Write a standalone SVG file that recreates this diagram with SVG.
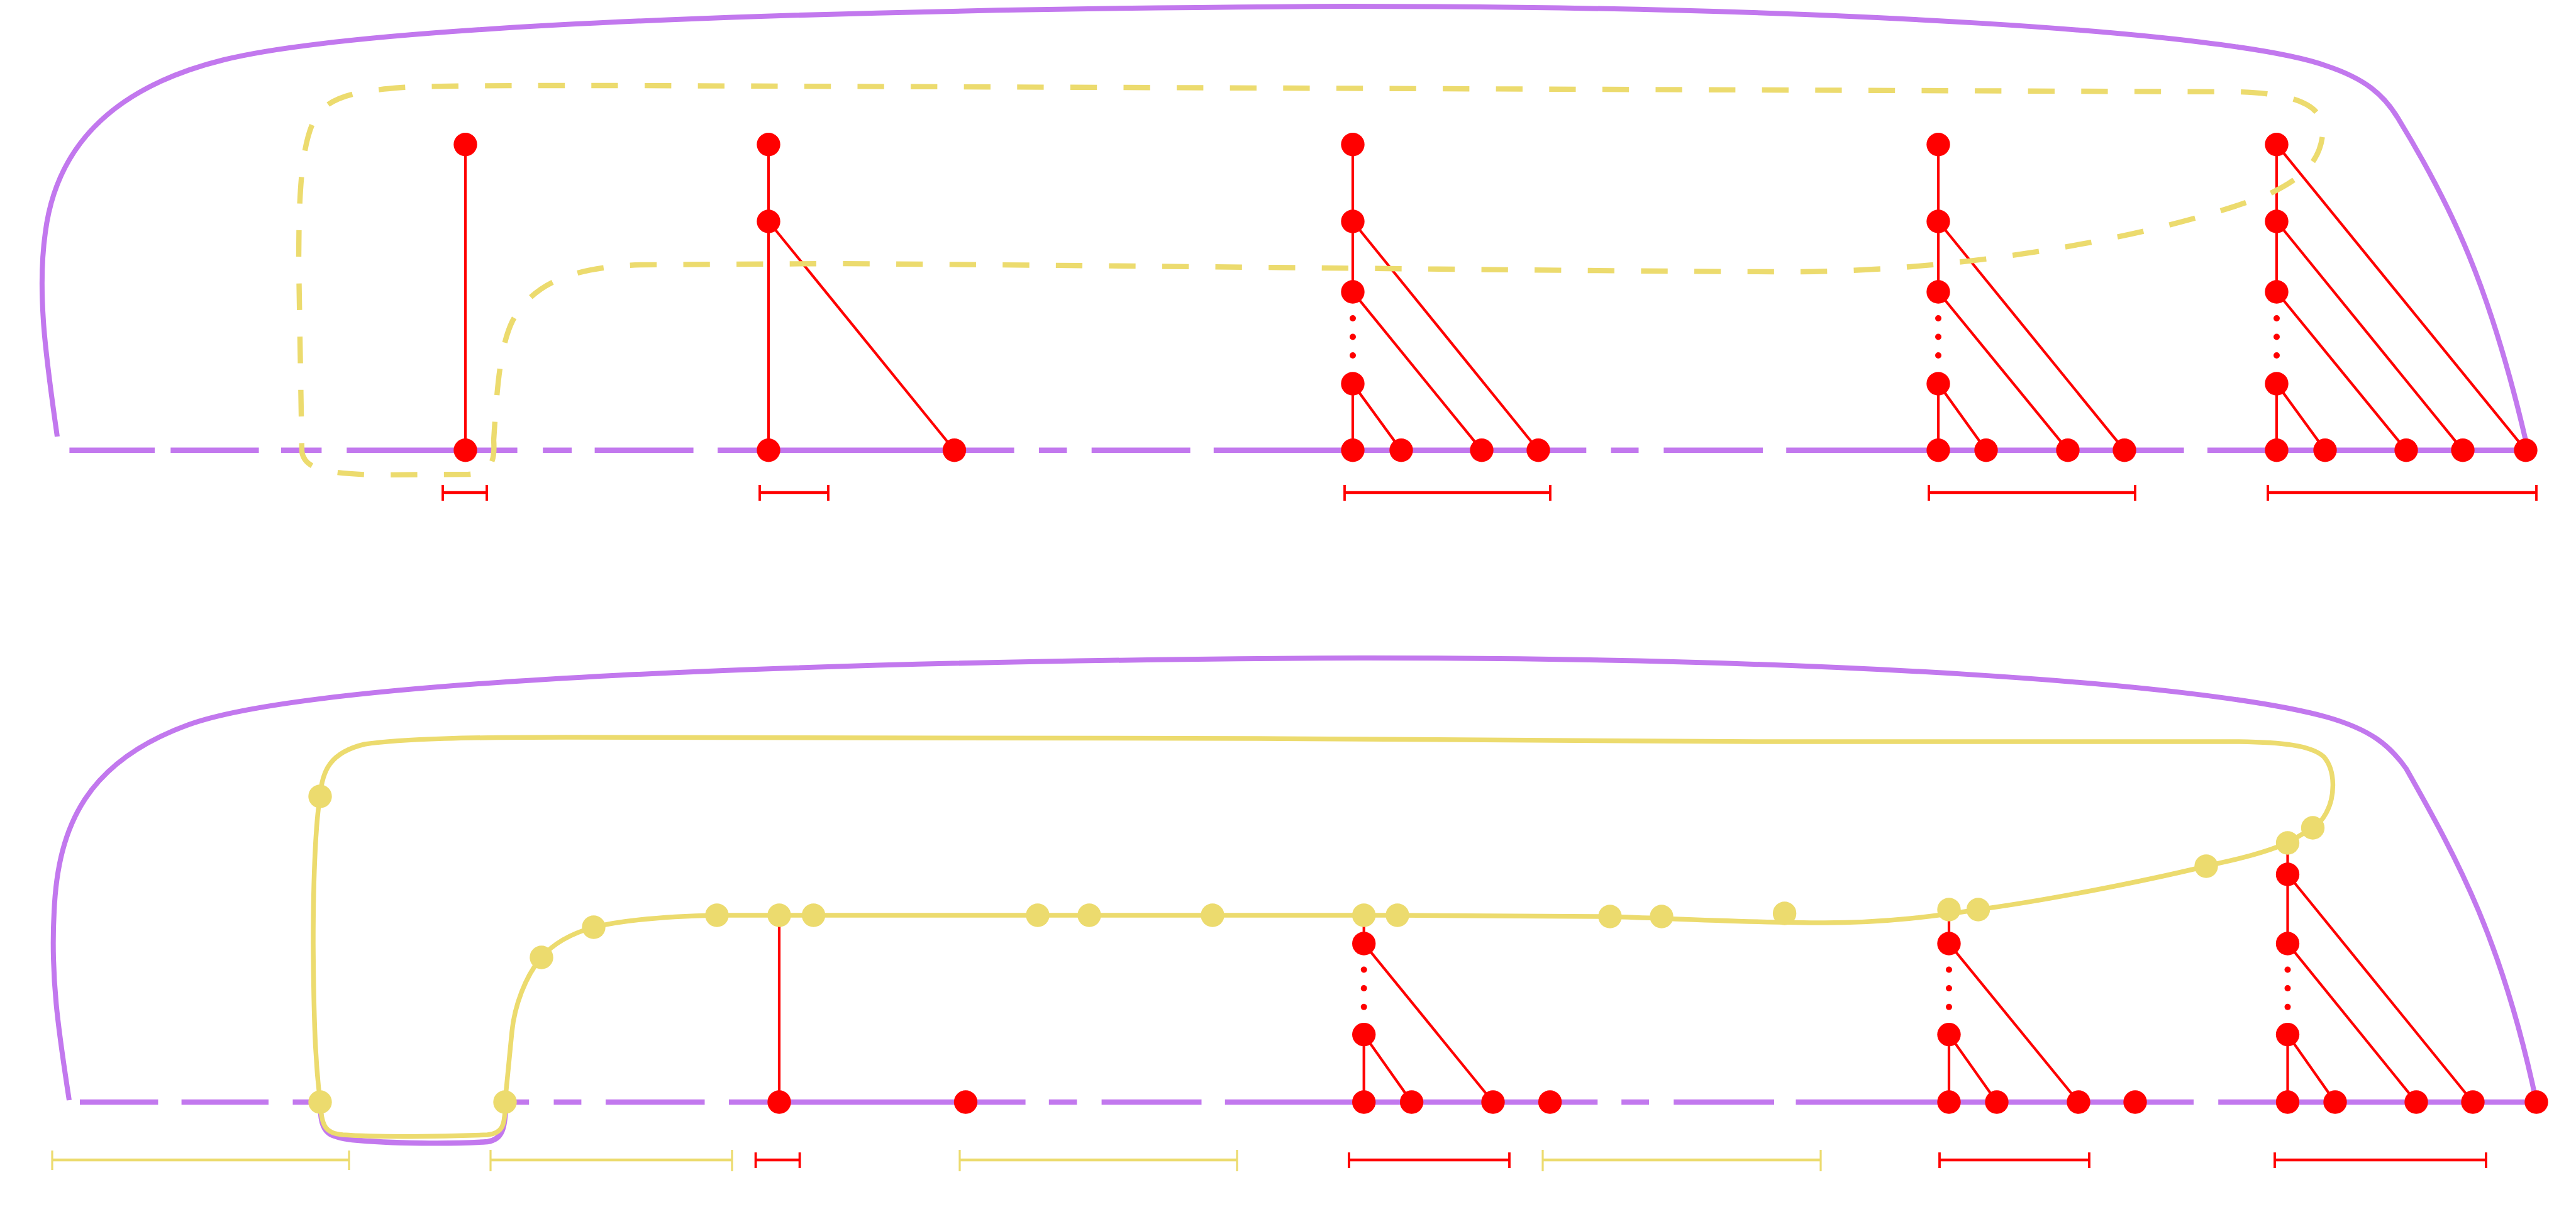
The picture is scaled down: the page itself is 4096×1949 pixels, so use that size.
<svg xmlns="http://www.w3.org/2000/svg" width="4096" height="1949" viewBox="0 0 4096 1949">
<style>
.pc{fill:none;stroke:#c278ee;stroke-width:8;stroke-linejoin:round}
.pb{fill:none;stroke:#c278ee;stroke-width:8.4}
.yd{fill:none;stroke:#ecdb6e;stroke-width:8.4;stroke-dasharray:42.3 42.3;stroke-dashoffset:8.7}
.ys{fill:none;stroke:#ecdb6e;stroke-width:7.5;stroke-linejoin:round}
.rl{fill:none;stroke:#ff0000;stroke-width:4.2}
.rb{fill:none;stroke:#ff0000;stroke-width:4.4}
.rt{fill:none;stroke:#ff0000;stroke-width:3.8}
.yb{fill:none;stroke:#ecdb6e;stroke-width:4.4}
.yt{fill:none;stroke:#ecdb6e;stroke-width:3.2}
.rn{fill:#ff0000}
.yn{fill:#ecdb6e}
.dot{fill:#ff0000}
</style>
<rect width="4096" height="1949" fill="#ffffff"/>
<g id="connectors">
  <!-- top diagram purple -->
  <path class="pc" d="M91 694 C75 580 58 470 72 370 C88 245 165 142 356 95 C600 35 1400 14 2141 10 C2900 10 3550 50 3700 105 C3760 125 3790 150 3813 188 C3900 330 3960 460 4016 700"/>
  <path class="pb" d="M110.4 715.7H246 M271.3 715.7H411.6 M446.9 715.7H511.4 M551.3 715.7H822.6 M863.2 715.7H909 M945.6 715.7H1102.6 M1141.1 715.7H1612.6 M1651.9 715.7H1696.4 M1735.7 715.7H1892.6 M1929.8 715.7H2522.3 M2561.6 715.7H2605.5 M2645.4 715.7H2803 M2840.2 715.7H3472.6 M3509.9 715.7H4018"/>
  <!-- top red lines -->
  <path class="rl" d="M740 229.7V715.7 M1222 229.7V715.7 M1222 352L1517.5 715.7
    M2151 229.7V464 M2151 610V715.7 M2151 352L2446 715.7 M2151 464L2356 715.7 M2151 610L2228 715.7
    M3082 229.7V464 M3082 610V715.7 M3082 352L3378 715.7 M3082 464L3288 715.7 M3082 610L3158 715.7
    M3620 229.7V464 M3620 610V715.7 M3620 229.7L4016 715.7 M3620 352L3916 715.7 M3620 464L3826 715.7 M3620 610L3697 715.7"/>
  <!-- top yellow dashed loop -->
  <path class="yd" d="M785 700 C788 742 775 752 745 754 L600 755 C515 753 484 745 480 718 L475 420 C475 300 480 230 500 190 C520 155 560 145 640 139 C700 136 800 136 1000 136 L3560 146 C3655 149 3700 170 3693 215 C3688 258 3660 285 3600 312 C3400 385 3100 432 2850 432 C2600 432 2000 424 1330 419 L1018 421 C900 425 845 455 815 510 C795 550 790 620 785 700 Z"/>
  <!-- top brackets -->
  <path class="rb" d="M704 783H774 M1208 783H1317 M2138 783H2465 M3067 783H3395 M3606 783H4033"/>
  <path class="rt" d="M704 771V796 M774 771V796 M1208 771V796 M1317 771V796 M2138 771V796 M2465 771V796 M3067 771V796 M3395 771V796 M3606 771V796 M4033 771V796"/>

  <!-- bottom diagram purple -->
  <path class="pc" d="M110 1749 C95 1650 80 1560 86 1450 C92 1310 140 1210 300 1152 C500 1080 1300 1050 2170 1046 C2900 1046 3500 1085 3700 1140 C3770 1160 3800 1185 3826 1222 C3910 1370 3980 1500 4033 1752"/>
  <path class="pb" d="M127 1752H251.4 M288.6 1752H427 M465.5 1752H509.4 M804 1752H841.2 M880.5 1752H924.4 M963 1752H1120.5 M1159 1752H1630.6 M1667.8 1752H1712.4 M1751.6 1752H1910.5 M1947.8 1752H2540.3 M2578.2 1752H2622.1 M2661.3 1752H2821 M2855.5 1752H3488 M3527.2 1752H4033.2"/>
  <path class="pb" d="M509.6 1752 L510 1770 C512 1802 525 1808 560 1812 C620 1818 720 1819 775 1815 C798 1812 804 1795 804 1752"/>
  <!-- bottom yellow loop -->
  <path class="ys" d="M509 1266 C512 1225 525 1196 580 1183 C640 1174 750 1172 900 1172 L2000 1174 L2793 1179 L3560 1179 C3630 1180 3675 1185 3695 1203 C3714 1225 3713 1266 3699 1292 C3692 1305 3686 1311 3677.5 1316 L3637.5 1340 C3590 1360 3545 1368 3508 1377 C3400 1403 3250 1432 3145.5 1446 C3080 1456 3000 1467 2901 1467 C2800 1467 2700 1462 2560 1457 L2222 1455 L1140 1455 C1050 1457 985 1464 944 1474 C905 1485 878 1502 861 1522 C835 1552 818 1600 814 1640 L803 1752 C804 1792 797 1802 775 1804 C700 1807 600 1808 545 1804 C520 1801 511 1795 509 1752 C503 1700 499 1650 498 1500 C498 1380 503 1300 509 1266 Z"/>
  <!-- bottom red lines -->
  <path class="rl" d="M1239 1455V1752
    M2168.7 1455V1500 M2168.7 1644.6V1752 M2168.7 1500L2374 1752 M2168.7 1644.6L2244.6 1752
    M3099 1446V1500 M3099 1644.6V1752 M3099 1500L3305 1752 M3099 1644.6L3175 1752
    M3637.5 1340V1500 M3637.5 1644.6V1752 M3637.5 1390L3932 1752 M3637.5 1500L3842 1752 M3637.5 1644.6L3713 1752"/>
  <!-- bottom brackets -->
  <path class="yb" d="M83 1844H555 M780 1844H1164 M1526 1844H1967 M2453 1844H2895"/>
  <path class="yt" d="M83 1829V1860 M555 1829V1860 M780 1828V1862 M1164 1828V1862 M1526 1828V1862 M1967 1828V1862 M2453 1828V1862 M2895 1828V1862"/>
  <path class="rb" d="M1201.6 1844H1271.6 M2145 1844H2400 M3084 1844H3322 M3617 1844H3953"/>
  <path class="rt" d="M1201.6 1832V1857 M1271.6 1832V1857 M2145 1832V1857 M2400 1832V1857 M3084 1832V1857 M3322 1832V1857 M3617 1832V1857 M3953 1832V1857"/>
</g>
<g id="ellipsis-dots">
  <circle class="dot" cx="2151" cy="506" r="5"/><circle class="dot" cx="2151" cy="535.5" r="5"/><circle class="dot" cx="2151" cy="565" r="5"/>
  <circle class="dot" cx="3082" cy="506" r="5"/><circle class="dot" cx="3082" cy="535.5" r="5"/><circle class="dot" cx="3082" cy="565" r="5"/>
  <circle class="dot" cx="3620" cy="506" r="5"/><circle class="dot" cx="3620" cy="535.5" r="5"/><circle class="dot" cx="3620" cy="565" r="5"/>
  <circle class="dot" cx="2168.7" cy="1541.5" r="5"/><circle class="dot" cx="2168.7" cy="1571" r="5"/><circle class="dot" cx="2168.7" cy="1600.7" r="5"/>
  <circle class="dot" cx="3099" cy="1541.5" r="5"/><circle class="dot" cx="3099" cy="1571" r="5"/><circle class="dot" cx="3099" cy="1600.7" r="5"/>
  <circle class="dot" cx="3637.5" cy="1541.5" r="5"/><circle class="dot" cx="3637.5" cy="1571" r="5"/><circle class="dot" cx="3637.5" cy="1600.7" r="5"/>
</g>
<g id="nodes">
  <g id="t1a"><circle class="rn" cx="740" cy="229.7" r="18.7"/></g>
  <g id="t1b"><circle class="rn" cx="740" cy="715.7" r="18.7"/></g>
  <g id="t2a"><circle class="rn" cx="1222" cy="229.7" r="18.7"/></g>
  <g id="t2b"><circle class="rn" cx="1222" cy="352" r="18.7"/></g>
  <g id="t2c"><circle class="rn" cx="1222" cy="715.7" r="18.7"/></g>
  <g id="t2d"><circle class="rn" cx="1517.5" cy="715.7" r="18.7"/></g>
  <g id="t3a"><circle class="rn" cx="2151" cy="229.7" r="18.7"/></g>
  <g id="t3b"><circle class="rn" cx="2151" cy="352" r="18.7"/></g>
  <g id="t3c"><circle class="rn" cx="2151" cy="464" r="18.7"/></g>
  <g id="t3d"><circle class="rn" cx="2151" cy="610" r="18.7"/></g>
  <g id="t3e"><circle class="rn" cx="2151" cy="715.7" r="18.7"/></g>
  <g id="t3f"><circle class="rn" cx="2228" cy="715.7" r="18.7"/></g>
  <g id="t3g"><circle class="rn" cx="2356" cy="715.7" r="18.7"/></g>
  <g id="t3h"><circle class="rn" cx="2446" cy="715.7" r="18.7"/></g>
  <g id="t4a"><circle class="rn" cx="3082" cy="229.7" r="18.7"/></g>
  <g id="t4b"><circle class="rn" cx="3082" cy="352" r="18.7"/></g>
  <g id="t4c"><circle class="rn" cx="3082" cy="464" r="18.7"/></g>
  <g id="t4d"><circle class="rn" cx="3082" cy="610" r="18.7"/></g>
  <g id="t4e"><circle class="rn" cx="3082" cy="715.7" r="18.7"/></g>
  <g id="t4f"><circle class="rn" cx="3158" cy="715.7" r="18.7"/></g>
  <g id="t4g"><circle class="rn" cx="3288" cy="715.7" r="18.7"/></g>
  <g id="t4h"><circle class="rn" cx="3378" cy="715.7" r="18.7"/></g>
  <g id="t5a"><circle class="rn" cx="3620" cy="229.7" r="18.7"/></g>
  <g id="t5b"><circle class="rn" cx="3620" cy="352" r="18.7"/></g>
  <g id="t5c"><circle class="rn" cx="3620" cy="464" r="18.7"/></g>
  <g id="t5d"><circle class="rn" cx="3620" cy="610" r="18.7"/></g>
  <g id="t5e"><circle class="rn" cx="3620" cy="715.7" r="18.7"/></g>
  <g id="t5f"><circle class="rn" cx="3697" cy="715.7" r="18.7"/></g>
  <g id="t5g"><circle class="rn" cx="3826" cy="715.7" r="18.7"/></g>
  <g id="t5h"><circle class="rn" cx="3916" cy="715.7" r="18.7"/></g>
  <g id="t5i"><circle class="rn" cx="4016" cy="715.7" r="18.7"/></g>

  <g id="y1"><circle class="yn" cx="509" cy="1266" r="18.7"/></g>
  <g id="y2"><circle class="yn" cx="509" cy="1752" r="18.7"/></g>
  <g id="y3"><circle class="yn" cx="803" cy="1752" r="18.7"/></g>
  <g id="y4"><circle class="yn" cx="861" cy="1522" r="18.7"/></g>
  <g id="y5"><circle class="yn" cx="944" cy="1474" r="18.7"/></g>
  <g id="y6"><circle class="yn" cx="1140" cy="1455" r="18.7"/></g>
  <g id="y7"><circle class="yn" cx="1239" cy="1455" r="18.7"/></g>
  <g id="y8"><circle class="yn" cx="1293.6" cy="1455" r="18.7"/></g>
  <g id="y9"><circle class="yn" cx="1650" cy="1455" r="18.7"/></g>
  <g id="y10"><circle class="yn" cx="1732" cy="1455" r="18.7"/></g>
  <g id="y11"><circle class="yn" cx="1928" cy="1455" r="18.7"/></g>
  <g id="y12"><circle class="yn" cx="2168.7" cy="1455" r="18.7"/></g>
  <g id="y13"><circle class="yn" cx="2222" cy="1455" r="18.7"/></g>
  <g id="y14"><circle class="yn" cx="2560" cy="1457" r="18.7"/></g>
  <g id="y15"><circle class="yn" cx="2642" cy="1457" r="18.7"/></g>
  <g id="y16"><circle class="yn" cx="2837.6" cy="1452" r="18.7"/></g>
  <g id="y17"><circle class="yn" cx="3099" cy="1446" r="18.7"/></g>
  <g id="y18"><circle class="yn" cx="3145.5" cy="1446" r="18.7"/></g>
  <g id="y19"><circle class="yn" cx="3508" cy="1377" r="18.7"/></g>
  <g id="y20"><circle class="yn" cx="3637.5" cy="1340" r="18.7"/></g>
  <g id="y21"><circle class="yn" cx="3677.5" cy="1316" r="18.7"/></g>

  <g id="b1"><circle class="rn" cx="1239" cy="1752" r="18.7"/></g>
  <g id="b2"><circle class="rn" cx="1535.5" cy="1752" r="18.7"/></g>
  <g id="bBa"><circle class="rn" cx="2168.7" cy="1500" r="18.7"/></g>
  <g id="bBb"><circle class="rn" cx="2168.7" cy="1644.6" r="18.7"/></g>
  <g id="bBc"><circle class="rn" cx="2168.7" cy="1752" r="18.7"/></g>
  <g id="bBd"><circle class="rn" cx="2244.6" cy="1752" r="18.7"/></g>
  <g id="bBe"><circle class="rn" cx="2374" cy="1752" r="18.7"/></g>
  <g id="bBf"><circle class="rn" cx="2464.6" cy="1752" r="18.7"/></g>
  <g id="bCa"><circle class="rn" cx="3099" cy="1500" r="18.7"/></g>
  <g id="bCb"><circle class="rn" cx="3099" cy="1644.6" r="18.7"/></g>
  <g id="bCc"><circle class="rn" cx="3099" cy="1752" r="18.7"/></g>
  <g id="bCd"><circle class="rn" cx="3175" cy="1752" r="18.7"/></g>
  <g id="bCe"><circle class="rn" cx="3305" cy="1752" r="18.7"/></g>
  <g id="bCf"><circle class="rn" cx="3395" cy="1752" r="18.7"/></g>
  <g id="bDa"><circle class="rn" cx="3637.5" cy="1390" r="18.7"/></g>
  <g id="bDb"><circle class="rn" cx="3637.5" cy="1500" r="18.7"/></g>
  <g id="bDc"><circle class="rn" cx="3637.5" cy="1644.6" r="18.7"/></g>
  <g id="bDd"><circle class="rn" cx="3637.5" cy="1752" r="18.7"/></g>
  <g id="bDe"><circle class="rn" cx="3713" cy="1752" r="18.7"/></g>
  <g id="bDf"><circle class="rn" cx="3842" cy="1752" r="18.7"/></g>
  <g id="bDg"><circle class="rn" cx="3932" cy="1752" r="18.7"/></g>
  <g id="bDh"><circle class="rn" cx="4033" cy="1752" r="18.7"/></g>
</g>
</svg>
